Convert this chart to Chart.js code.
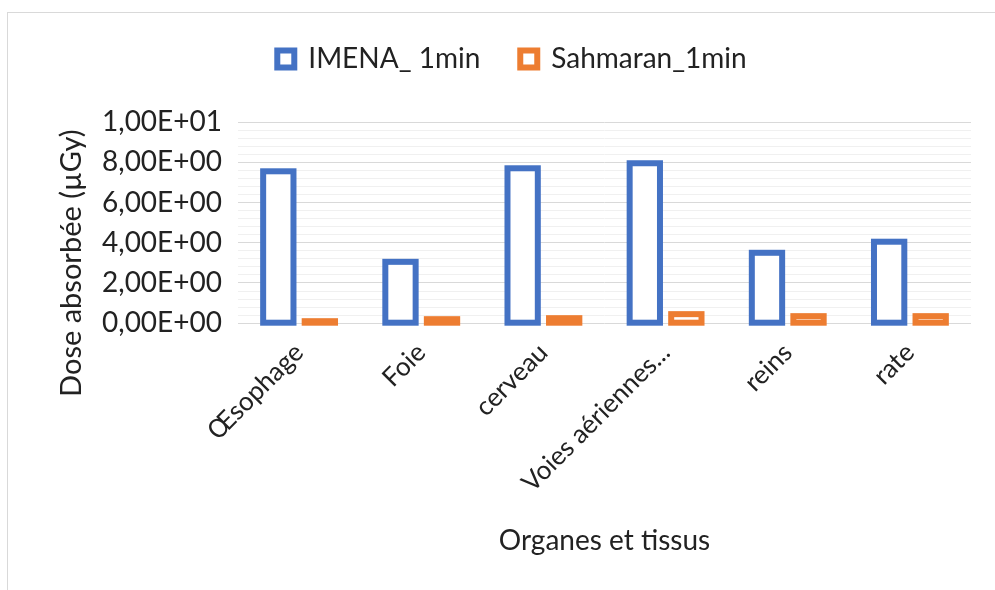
<!DOCTYPE html>
<html>
<head>
<meta charset="utf-8">
<script src="https://cdn.jsdelivr.net/npm/chart.js@4.4.0/dist/chart.umd.min.js"></script>
<style>
  html, body { margin: 0; padding: 0; background: #fff; overflow: hidden; }
  #frame { position: absolute; left: 7px; top: 12px; width: 1010px; height: 600px; border: 1px solid #d9d9d9; }
</style>
</head>
<body>
<div id="frame"><canvas id="doseChart" width="1010" height="578"></canvas></div>
<script>
const organs = ['Œsophage', 'Foie', 'cerveau', 'Voies aériennes...', 'reins', 'rate']
const imena1min = [7.55, 3.05, 7.7, 7.95, 3.5, 4.05]
const sahmaran1min = [0.1, 0.2, 0.25, 0.45, 0.35, 0.35]
const yTickValues = [0, 2, 4, 6, 8, 10]
const yTickLabels = ['0,00E+00', '2,00E+00', '4,00E+00', '6,00E+00', '8,00E+00', '1,00E+01']
const xAxisTitle = 'Organes et tissus'
const yAxisTitle = 'Dose absorbée (µGy)'

const fontFamily = 'Lato, "Liberation Sans", sans-serif'
const textColor = '#222222'

// Excel strokes the outline centred on the bar edge, Chart.js draws it inside
const centredOutline = {
    id: 'centredOutline',
    beforeDatasetDraw(chart, args) {
        const ctx = chart.ctx
        const ds = chart.data.datasets[args.index]
        ctx.save()
        ctx.lineWidth = ds.borderWidth
        ctx.strokeStyle = ds.borderColor
        ctx.fillStyle = ds.backgroundColor
        args.meta.data.forEach(bar => {
            const {x, y, base, width} = bar.getProps(['x', 'y', 'base', 'width'], true)
            ctx.fillRect(x - width / 2, y, width, base - y)
            ctx.strokeRect(x - width / 2, y, width, base - y)
        })
        ctx.restore()
        return false
    }
}

// y title sits lower than the plot centre in the original
const yTitle = {
    id: 'yTitle',
    afterDraw(chart) {
        const {ctx, chartArea} = chart
        ctx.save()
        ctx.translate(chartArea.left - 166, chartArea.bottom - 60)
        ctx.rotate(-Math.PI / 2)
        ctx.font = '29px ' + fontFamily
        ctx.fillStyle = textColor
        ctx.textAlign = 'center'
        ctx.textBaseline = 'middle'
        ctx.fillText(yAxisTitle, 0, 0)
        ctx.restore()
    }
}

// more room between legend and plot
const legendGap = {
    id: 'legendGap',
    beforeInit(chart) {
        const fit = chart.legend.fit
        chart.legend.fit = function () {
            fit.call(this)
            this.height += 39
        }
    }
}

const isMajor = v => Math.round(v * 10) % 20 === 0

new Chart(document.getElementById('doseChart'), {
    type: 'bar',
    data: {
        labels: organs,
        datasets: [{
            label: 'IMENA_ 1min',
            data: imena1min,
            backgroundColor: '#ffffff',
            borderColor: '#4472c4',
            borderWidth: 6,
        }, {
            label: 'Sahmaran_1min',
            data: sahmaran1min,
            backgroundColor: '#ffffff',
            borderColor: '#ed7d31',
            borderWidth: 6,
        }]
    },
    options: {
        responsive: false,
        animation: false,
        categoryPercentage: 0.68,
        barPercentage: 0.73,
        layout: {
            padding: {left: 45, right: 47, top: -8, bottom: 29}
        },
        plugins: {
            legend: {
                labels: {
                    boxWidth: 17,
                    boxHeight: 17,
                    padding: 40,
                    color: textColor,
                    font: {family: fontFamily, size: 28}
                }
            },
            tooltip: {enabled: false}
        },
        scales: {
            x: {
                grid: {display: false},
                border: {display: false},
                ticks: {
                    minRotation: 45,
                    maxRotation: 45,
                    padding: 6,
                    color: textColor,
                    font: {family: fontFamily, size: 26}
                },
                title: {
                    display: true,
                    text: xAxisTitle,
                    color: textColor,
                    font: {family: fontFamily, size: 28},
                    padding: {top: 20, bottom: 4}
                }
            },
            y: {
                min: 0,
                max: 10,
                border: {display: false},
                afterFit: scale => { scale.width = 185 },
                grid: {
                    drawTicks: false,
                    color: ctx => isMajor(ctx.tick.value) ? '#d9d9d9' : '#f0f0f0',
                    lineWidth: 1
                },
                ticks: {
                    stepSize: 0.4,
                    autoSkip: false,
                    padding: 16,
                    color: textColor,
                    font: {family: fontFamily, size: 28},
                    callback: value => {
                        const i = yTickValues.indexOf(Math.round(value * 10) / 10)
                        return i >= 0 ? yTickLabels[i] : ''
                    }
                }
            }
        }
    },
    plugins: [centredOutline, yTitle, legendGap]
})
</script>
</body>
</html>
